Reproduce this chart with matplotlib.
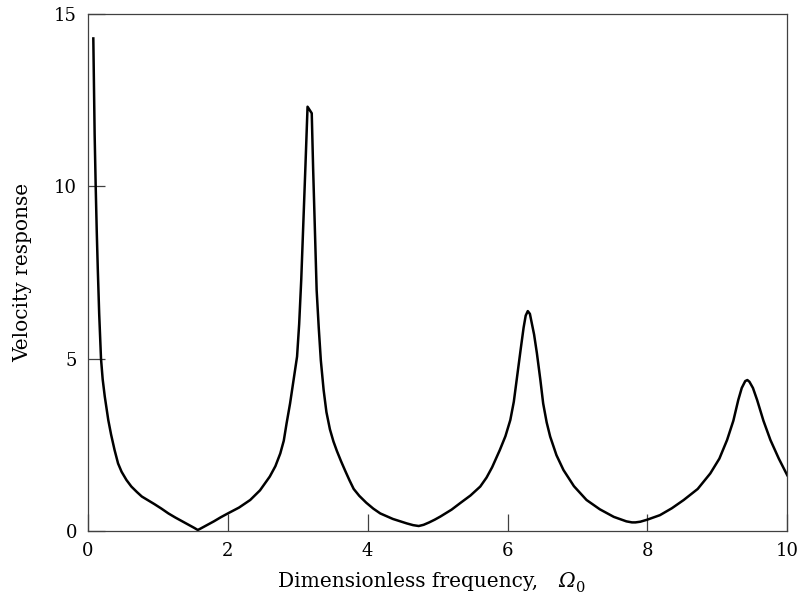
import matplotlib.pyplot as plt

plt.rcParams['font.family'] = 'DejaVu Serif'

# Frequency response sampled along the curve
freq = [0.076, 0.085, 0.095, 0.11, 0.125, 0.14, 0.16, 0.186, 0.21, 0.24,
        0.29, 0.33, 0.38, 0.43, 0.48, 0.55, 0.62, 0.70, 0.77, 0.86, 0.95,
        1.05, 1.15, 1.25, 1.35, 1.45, 1.52, 1.57,
        1.6, 1.7, 1.8, 1.9, 2.0, 2.16, 2.32, 2.46, 2.60, 2.68, 2.75, 2.80,
        2.84, 2.89, 2.94, 2.99, 3.02, 3.05, 3.08, 3.11, 3.14,
        3.20, 3.22, 3.245, 3.27, 3.30, 3.33, 3.37, 3.41, 3.46, 3.51, 3.56,
        3.62, 3.68, 3.74, 3.80, 3.88, 3.98, 4.08, 4.18, 4.36, 4.56, 4.65,
        4.73,
        4.80, 4.88, 4.96, 5.04, 5.2, 5.33, 5.47, 5.61, 5.70, 5.78, 5.89,
        5.97, 6.04, 6.09, 6.13, 6.19, 6.23, 6.26, 6.29, 6.32, 6.35, 6.38,
        6.42, 6.47, 6.51, 6.56, 6.61, 6.70, 6.80, 6.95, 7.13, 7.32, 7.52,
        7.70, 7.78, 7.83, 7.9, 8.0, 8.18, 8.35, 8.52, 8.72, 8.90, 9.03,
        9.14, 9.23, 9.30, 9.35, 9.40, 9.43, 9.46, 9.51, 9.57, 9.66, 9.76,
        9.88, 10.0]
vel = [14.29, 13.0, 11.5, 10.0, 8.7, 7.6, 6.3, 5.0, 4.4, 3.9,
       3.22, 2.8, 2.35, 1.96, 1.72, 1.48, 1.29, 1.13, 1.0, 0.89, 0.78,
       0.65, 0.51, 0.39, 0.28, 0.17, 0.09, 0.03,
       0.06, 0.17, 0.28, 0.40, 0.51, 0.68, 0.90, 1.18, 1.58, 1.88, 2.25, 2.62,
       3.12, 3.70, 4.38, 5.06, 6.0, 7.3, 8.93, 10.6, 12.31,
       12.12, 10.5, 8.7, 6.99, 5.9, 4.95, 4.09, 3.45, 2.95, 2.6, 2.32,
       2.02, 1.74, 1.47, 1.22, 1.02, 0.82, 0.65, 0.51, 0.35, 0.22, 0.17,
       0.145,
       0.18, 0.25, 0.33, 0.42, 0.62, 0.82, 1.03, 1.29, 1.55, 1.85, 2.35,
       2.75, 3.22, 3.75, 4.38, 5.3, 5.9, 6.25, 6.38, 6.3, 6.0, 5.7,
       5.16, 4.38, 3.70, 3.15, 2.74, 2.2, 1.77, 1.3, 0.90, 0.63, 0.41,
       0.28, 0.25, 0.25, 0.27, 0.33, 0.46, 0.66, 0.90, 1.22, 1.67, 2.1,
       2.64, 3.2, 3.80, 4.15, 4.35, 4.38, 4.33, 4.15, 3.80, 3.2, 2.64,
       2.1, 1.62]

fig = plt.figure(figsize=(8, 6.05), dpi=100)
ax = fig.add_axes([0.11, 0.1223, 0.874, 0.8546])

ax.plot(freq, vel, color='black', lw=1.8, solid_joinstyle='round')

ax.set_xlim(0, 10)
ax.set_ylim(0, 15)
ax.set_xticks([0, 2, 4, 6, 8, 10])
ax.set_yticks([0, 5, 10, 15])
ax.tick_params(direction='in', length=12, width=0.9, color='#404040',
               labelsize=13, pad=8)
for s in ax.spines.values():
    s.set_color('#404040')
    s.set_linewidth(0.9)

ax.set_ylabel('Velocity response', fontsize=14.5, labelpad=16)

# x label: plain text, then italic capital omega with a lowered 0
fig.canvas.draw()
r = fig.canvas.get_renderer()
lab_y = 18 / 605
t1 = fig.text(278 / 800, lab_y, 'Dimensionless frequency,', fontsize=14.5,
              va='baseline')
x1 = t1.get_window_extent(r).x1 / 800
t2 = fig.text(x1 + 20 / 800, lab_y, '\u03a9', fontsize=14.5, style='italic',
              va='baseline')
x2 = t2.get_window_extent(r).x1 / 800
fig.text(x2 + 1 / 800, lab_y - 5 / 605, '0', fontsize=10.5, va='baseline')

fig.savefig('out.png', dpi=100)
